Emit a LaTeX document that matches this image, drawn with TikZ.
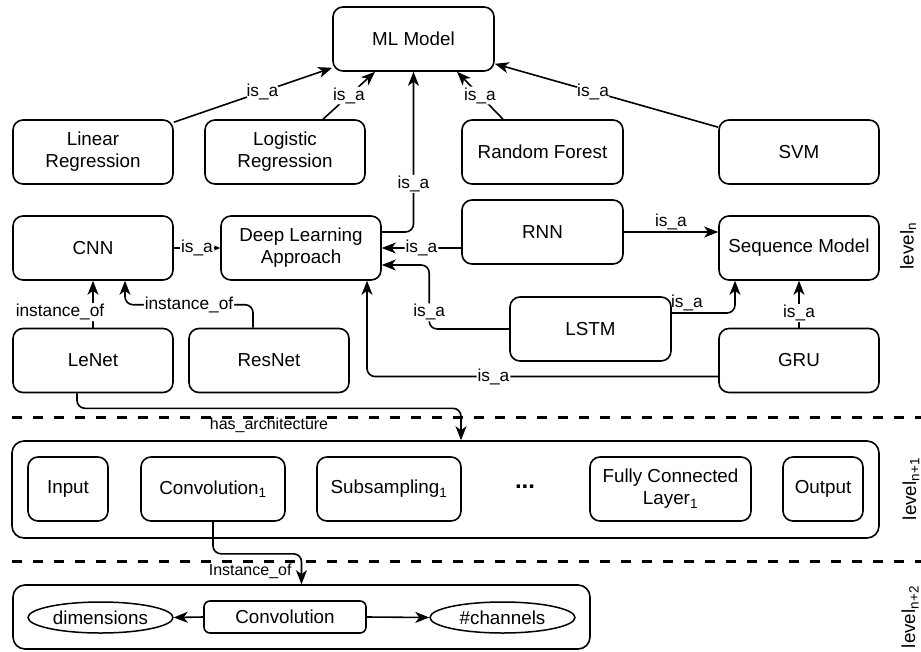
\documentclass[tikz,border=0pt]{standalone}
\usepackage{fontspec}
\setmainfont{Liberation Sans}
\usetikzlibrary{arrows.meta,calc,shapes.geometric}
\newcommand\nfont{\fontsize{18.8}{22}\selectfont}
\newcommand\lfont{\fontsize{17.3}{20}\selectfont}
\newcommand\sfont{\fontsize{16}{19}\selectfont}
\newcommand\mysub[1]{\textsubscript{\fontsize{13.5}{14}\selectfont #1}}
\tikzset{
  box/.style={draw, line width=1.6pt, rounded corners=10pt, align=center, font=\nfont, inner sep=0pt},
  std/.style={box, minimum width=160pt, minimum height=64pt},
  oval/.style={draw, ellipse, line width=1.5pt, font=\nfont, inner sep=0pt, minimum width=145pt, minimum height=31pt},
  arr/.style={draw, line width=1.6pt, rounded corners=8pt, -{Stealth[length=14pt,width=11pt,inset=4pt]}},
  arrs/.style={draw, line width=1.6pt, -{Stealth[length=6pt,width=5pt,inset=1.5pt]}},
  lbl/.style={fill=white, inner sep=1pt, font=\lfont},
  lbltop/.style={inner sep=1pt, font=\lfont},
  slbl/.style={inner sep=1pt, font=\sfont},
  sep/.style={line width=3pt, dash pattern=on 10pt off 11pt},
  lvl/.style={rotate=90, font=\nfont}
}
\begin{document}
\begin{tikzpicture}[x=1pt,y=-1pt]
\useasboundingbox (0,0) rectangle (921,651);
% level n
\node[box, minimum width=161pt, minimum height=64pt] (ml) at (413.5,39) {ML Model};
\node[std] (lr) at (93,152) {Linear\\Regression};
\node[std] (logr) at (285,152) {Logistic\\Regression};
\node[std, minimum width=161pt] (rf) at (542.5,152) {Random Forest};
\node[std] (svm) at (799,152) {SVM};
\node[std] (cnn) at (93,248) {CNN};
\node[std] (dla) at (301,248) {Deep Learning\\Approach};
\node[std, minimum width=161pt] (rnn) at (542.5,232) {RNN};
\node[std] (sm) at (799,248) {Sequence Model};
\node[std, minimum width=161pt] (lstm) at (590.5,329) {LSTM};
\node[std] (gru) at (799,360.5) {GRU};
\node[std] (lenet) at (93,360.5) {LeNet};
\node[std] (resnet) at (269,360.5) {ResNet};
% level n+1
\node[box, rounded corners=12pt, minimum width=867pt, minimum height=97pt] (arch) at (445.5,489.5) {};
\node[box, minimum width=80pt, minimum height=64pt] (input) at (68,489) {Input};
\node[box, minimum width=144pt, minimum height=64pt] (conv1) at (213,489) {Convolution\mysub{1}};
\node[box, minimum width=144pt, minimum height=64pt] (sub1) at (389,489) {Subsampling\mysub{1}};
\node[font=\fontsize{24}{24}\selectfont\bfseries] (dots) at (525,487) {...};
\node[box, minimum width=161pt, minimum height=64pt] (fcl) at (670.5,489) {Fully Connected\\Layer\mysub{1}};
\node[box, minimum width=80pt, minimum height=64pt] (output) at (823,489) {Output};
% level n+2
\node[box, rounded corners=12pt, minimum width=577pt, minimum height=64pt] (bot) at (301.5,617) {};
\node[oval] (dims) at (100.5,617.5) {dimensions};
\node[box, rounded corners=6pt, minimum width=162pt, minimum height=32pt] (conv) at (285,617) {Convolution};
\node[oval] (chan) at (502.5,617.5) {\#channels};
% separators
\draw[sep] (12,417) -- (921,417);
\draw[sep] (12,561) -- (921,561);
% level labels
\node[lvl] (lvn) at (908,246) {level\mysub{n}};
\node[lvl] (lvn1) at (911,489) {level\mysub{n+1}};
\node[lvl] (lvn2) at (910,617) {level\mysub{n+2}};
% connectors
\draw[arr] ($(lr.north east)+(0,3)$) -- node[lbl,pos=0.56]{is\_a} ($(ml.south west)+(0,-4)$);
\draw[arr] ($(logr.north)+(38,0)$) -- node[lbl]{is\_a} ($(ml.south)+(-38.5,0)$);
\draw[arr] ($(rf.north)+(-39.5,0)$) -- node[lbl]{is\_a} ($(ml.south)+(43.5,0)$);
\draw[arr] ($(svm.north west)+(0,8)$) -- node[lbl,pos=0.56]{is\_a} ($(ml.south east)+(0,-8)$);
\draw[arr] ($(dla.east)+(0,-16)$) -| node[lbl,pos=0.65]{is\_a} (ml.south);
\draw[arrs] (cnn.east) -- node[lbl]{is\_a} (dla.west);
\draw[arr] ($(rnn.west)+(0,16)$) -- node[lbl]{is\_a} (dla.east);
\draw[arr] (lstm.west) -- ++(-80,0) |- node[lbl,pos=0.13]{is\_a} ($(dla.east)+(0,17)$);
\draw[arr] ($(gru.west)+(0,16)$) -| node[lbl,pos=0.32]{is\_a} ($(dla.south)+(66,0)$);
\draw[arr] (rnn.east) -- node[lbltop,above]{is\_a} ($(sm.west)+(0,-16)$);
\draw[arr] ($(lstm.east)+(0,-16)$) -| node[lbltop,pos=0.12,above]{is\_a} ($(sm.south)+(-64,0)$);
\draw[arr] (gru.north) -- node[lbl,pos=0.31]{is\_a} (sm.south);
\draw[arr] (lenet.north) -- node[lbl,pos=0.33,xshift=-33pt]{instance\_of} (cnn.south);
\draw[arr] ($(resnet.north)+(-16,0)$) -- ++(0,-23) -| node[lbl,pos=0.25]{instance\_of} ($(cnn.south)+(32,0)$);
\draw[arr] ($(lenet.south)+(-16,0)$) -- ++(0,15) -| node[slbl,pos=0.25,yshift=-17pt]{has\_architecture} ($(arch.north)+(15.5,0)$);
\draw[arr] (conv1.south) -- ++(0,32) -| node[slbl,pos=0.21,yshift=-17pt]{Instance\_of} (bot.north);
\draw[arr] (conv.west) -- (dims.east);
\draw[arr] (conv.east) -- (chan.west);
\end{tikzpicture}
\end{document}
